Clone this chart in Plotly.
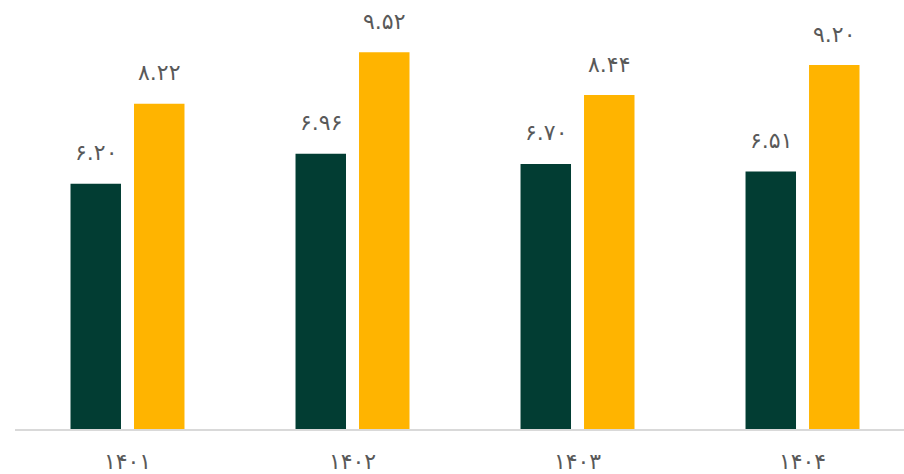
import plotly.graph_objects as go

categories = ["۱۴۰۱", "۱۴۰۲", "۱۴۰۳", "۱۴۰۴"]
series_a = [6.20, 6.96, 6.70, 6.51]
series_b = [8.22, 9.52, 8.44, 9.20]
labels_a = ["۶.۲۰", "۶.۹۶", "۶.۷۰", "۶.۵۱"]
labels_b = ["۸.۲۲", "۹.۵۲", "۸.۴۴", "۹.۲۰"]

color_a = "#023D33"
color_b = "#FFB400"
text_color = "#595959"
font_family = "DejaVu Sans"

fig = go.Figure()
fig.add_trace(go.Bar(x=categories, y=series_a, marker=dict(color=color_a, line=dict(width=0)),
                     hoverinfo="skip", showlegend=False))
fig.add_trace(go.Bar(x=categories, y=series_b, marker=dict(color=color_b, line=dict(width=0)),
                     hoverinfo="skip", showlegend=False))

slot = 0.282
for i, cat in enumerate(categories):
    for off, vals, labs in ((-slot / 2, series_a, labels_a), (slot / 2, series_b, labels_b)):
        fig.add_annotation(x=i + off, y=vals[i], xref="x", yref="y", text=labs[i],
                           showarrow=False, yanchor="middle", yshift=31,
                           font=dict(family=font_family, size=22, color=text_color))

fig.update_layout(
    width=904, height=474,
    margin=dict(l=15, r=0, t=0, b=43),
    paper_bgcolor="white", plot_bgcolor="white",
    barmode="group", bargap=0.4356, bargroupgap=0.205,
    xaxis=dict(type="category", range=[-0.5, 3.451], showgrid=False, zeroline=False,
               showline=True, linecolor="#D9D9D9", linewidth=2,
               ticks="outside", ticklen=12, tickcolor="rgba(0,0,0,0)",
               tickfont=dict(family=font_family, size=22, color=text_color)),
    yaxis=dict(range=[0, 10.843], showgrid=False, zeroline=False, showline=False,
               showticklabels=False, ticks=""),
)

fig.write_html("out.html", config={"displayModeBar": False},
               post_script="document.body.style.margin='0';document.body.style.overflow='hidden';")
